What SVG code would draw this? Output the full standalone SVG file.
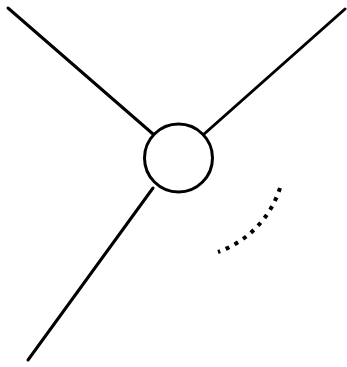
<svg xmlns="http://www.w3.org/2000/svg" width="347" height="367" viewBox="0 0 347 367">
<style>
.ln{stroke:#000;stroke-width:3;fill:none;stroke-linecap:round}
.dot{stroke:#000;stroke-width:4;fill:none;stroke-dasharray:4 6}
</style>
<rect width="347" height="367" fill="#fff"/>
<g id="connectors">
<line class="ln" x1="8" y1="8" x2="153" y2="134"/>
<line class="ln" x1="345" y1="9" x2="203" y2="135"/>
<line class="ln" x1="28" y1="360" x2="153" y2="188"/>
<path class="dot" d="M280,188 A100,100 0 0 1 218,252"/>
</g>
<g id="node">
<circle cx="178.5" cy="158" r="34" fill="#fff" stroke="#000" stroke-width="3"/>
</g>
</svg>
